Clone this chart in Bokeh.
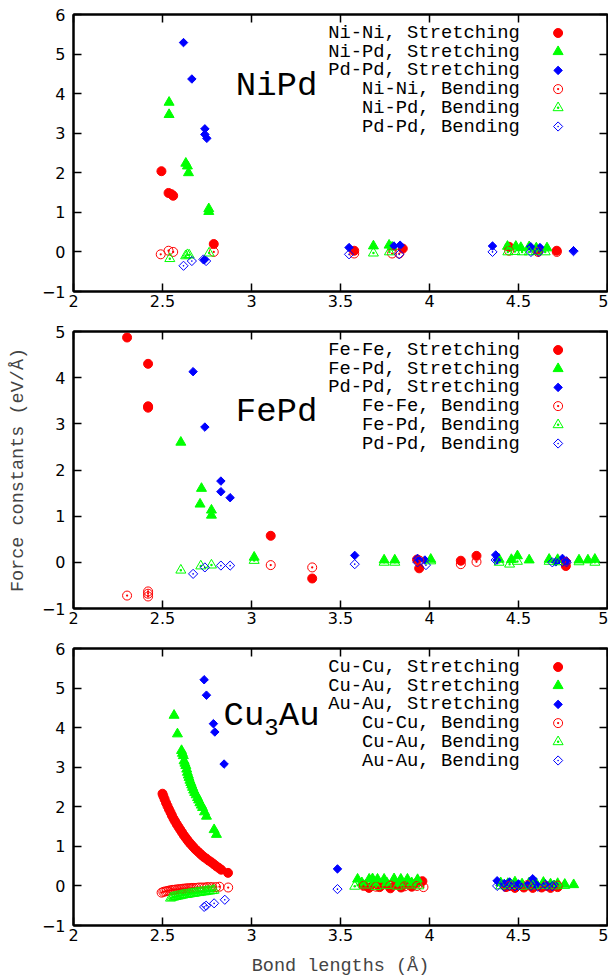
from bokeh.plotting import figure
from bokeh.models import LinearAxis, FixedTicker, Label, Range1d
from bokeh.layouts import column
from bokeh.embed import file_html
from bokeh.resources import INLINE

# ---------------- data ----------------
x_ticks = [2, 2.5, 3, 3.5, 4, 4.5, 5]
x_tick_labels = ["2", "2.5", "3", "3.5", "4", "4.5", "5"]

# NiPd
nipd_labels = ["Ni-Ni, Stretching", "Ni-Pd, Stretching", "Pd-Pd, Stretching",
               "Ni-Ni, Bending", "Ni-Pd, Bending", "Pd-Pd, Bending"]
nipd_nini_str_x = [2.494, 2.534, 2.550, 2.560, 2.788, 3.577, 3.850, 4.447, 4.610, 4.715]
nipd_nini_str_y = [2.04, 1.49, 1.46, 1.42, 0.20, 0.03, 0.085, 0.13, 0.03, 0.03]
nipd_nipd_str_x = [2.537, 2.537, 2.631, 2.640, 2.646, 2.760, 2.760, 3.685, 3.773, 3.790,
                   4.438, 4.485, 4.513, 4.560, 4.600, 4.660]
nipd_nipd_str_y = [3.78, 3.47, 2.24, 2.17, 2.00, 1.09, 1.02, 0.15, 0.17, 0.12,
                   0.14, 0.14, 0.11, 0.13, 0.10, 0.10]
nipd_pdpd_str_x = [2.618, 2.665, 2.738, 2.738, 2.749, 2.735, 3.548, 3.800, 3.835,
                   4.354, 4.569, 4.621, 4.809]
nipd_pdpd_str_y = [5.29, 4.37, 3.11, 2.97, 2.87, -0.20, 0.11, 0.15, 0.17,
                   0.15, 0.13, 0.11, 0.03]
nipd_nini_bend_x = [2.490, 2.534, 2.560, 2.788, 3.577, 3.790, 3.830, 4.447, 4.610, 4.715]
nipd_nini_bend_y = [-0.06, 0.03, 0.00, 0.00, -0.04, -0.04, -0.04, 0.03, 0.00, 0.00]
nipd_nipd_bend_x = [2.541, 2.630, 2.640, 2.650, 2.762, 3.685, 3.775, 4.440, 4.480, 4.520,
                    4.560, 4.600, 4.650]
nipd_nipd_bend_y = [-0.17, -0.10, -0.07, -0.08, -0.03, -0.03, 0.00, 0.00, 0.01, 0.00,
                    0.00, 0.01, 0.00]
nipd_pdpd_bend_x = [2.618, 2.665, 2.730, 2.745, 3.548, 3.830, 4.354, 4.570, 4.615, 4.809]
nipd_pdpd_bend_y = [-0.35, -0.23, -0.19, -0.23, -0.06, -0.06, 0.00, 0.00, 0.00, 0.02]

# FePd
fepd_labels = ["Fe-Fe, Stretching", "Fe-Pd, Stretching", "Pd-Pd, Stretching",
               "Fe-Fe, Bending", "Fe-Pd, Bending", "Pd-Pd, Bending"]
fepd_fefe_str_x = [2.301, 2.419, 2.419, 2.419, 3.108, 3.341, 3.930, 3.942, 4.176, 4.264, 4.766]
fepd_fefe_str_y = [4.87, 4.30, 3.38, 3.35, 0.575, -0.35, 0.06, -0.13, 0.035, 0.14, -0.08]
fepd_fepd_str_x = [2.603, 2.719, 2.711, 2.775, 2.775, 3.015, 3.745, 3.805, 4.007, 4.391,
                   4.460, 4.494, 4.560, 4.672, 4.720, 4.840, 4.890, 4.929]
fepd_fepd_str_y = [2.60, 1.60, 1.26, 1.13, 1.02, 0.11, 0.05, 0.05, 0.065, 0.065,
                   0.06, 0.14, 0.05, 0.065, 0.06, 0.05, 0.05, 0.065]
fepd_pdpd_str_x = [2.672, 2.738, 2.828, 2.828, 2.880, 3.580, 3.933, 3.974, 4.372, 4.380,
                   4.710, 4.747, 4.770]
fepd_pdpd_str_y = [4.13, 2.93, 1.76, 1.53, 1.40, 0.15, 0.085, 0.05, 0.16, 0.05,
                   0.01, 0.085, 0.03]
fepd_fefe_bend_x = [2.301, 2.419, 2.419, 2.419, 3.108, 3.341, 3.943, 4.176, 4.264, 4.766]
fepd_fefe_bend_y = [-0.72, -0.63, -0.68, -0.74, -0.06, -0.11, 0.04, -0.04, 0.01, 0.00]
fepd_fepd_bend_x = [2.603, 2.715, 2.775, 3.015, 3.745, 3.805, 4.007, 4.391, 4.450, 4.494,
                    4.672, 4.720, 4.840, 4.929]
fepd_fepd_bend_y = [-0.17, -0.08, -0.06, 0.04, 0.00, 0.00, 0.03, 0.00, -0.04, 0.02,
                    0.02, 0.01, 0.01, 0.00]
fepd_pdpd_bend_x = [2.672, 2.738, 2.828, 2.880, 3.580, 3.933, 3.980, 4.372, 4.690, 4.747, 4.770]
fepd_pdpd_bend_y = [-0.25, -0.11, -0.07, -0.07, -0.04, 0.00, -0.06, 0.05, 0.00, 0.01, 0.00]

# Cu3Au
cuau_labels = ["Cu-Cu, Stretching", "Cu-Au, Stretching", "Au-Au, Stretching",
               "Cu-Cu, Bending", "Cu-Au, Bending", "Au-Au, Bending"]
cuau_cucu_str_x = [2.500, 2.505, 2.512, 2.520, 2.528, 2.536, 2.545, 2.553, 2.562, 2.571,
                   2.580, 2.590, 2.600, 2.610, 2.620, 2.630, 2.640, 2.650, 2.660, 2.672,
                   2.684, 2.696, 2.708, 2.720, 2.733, 2.746, 2.760, 2.774, 2.788, 2.802,
                   2.815, 2.830, 2.868,
                   3.63, 3.66, 3.69, 3.72, 3.75, 3.78, 3.81, 3.84, 3.87, 3.90, 3.93, 3.96,
                   4.43, 4.48, 4.53, 4.58, 4.63, 4.68, 4.72]
cuau_cucu_str_y = [2.33, 2.27, 2.19, 2.10, 2.02, 1.94, 1.86, 1.78, 1.70, 1.63,
                   1.56, 1.49, 1.42, 1.35, 1.28, 1.22, 1.16, 1.10, 1.05, 0.99,
                   0.93, 0.88, 0.83, 0.78, 0.73, 0.69, 0.64, 0.60, 0.55, 0.50,
                   0.46, 0.41, 0.33,
                   0.02, -0.05, 0.06, -0.03, 0.04, -0.06, 0.03, -0.04, 0.05, -0.02, 0.08, 0.12,
                   -0.03, -0.05, -0.04, -0.05, -0.04, -0.05, -0.03]
cuau_cuau_str_x = [2.565, 2.584, 2.607, 2.612, 2.617, 2.621, 2.626, 2.631, 2.636, 2.640,
                   2.645, 2.649, 2.654, 2.659, 2.664, 2.669, 2.675, 2.681, 2.689, 2.697,
                   2.703, 2.710, 2.718, 2.725, 2.736, 2.747, 2.790, 2.803,
                   3.596, 3.620, 3.661, 3.680, 3.690, 3.708, 3.745, 3.760, 3.801, 3.830,
                   3.839, 3.876, 3.900, 3.933,
                   4.40, 4.44, 4.48, 4.52, 4.56, 4.60, 4.64, 4.68, 4.72, 4.76, 4.81]
cuau_cuau_str_y = [4.31, 3.84, 3.42, 3.35, 3.29, 3.16, 3.10, 3.04, 2.95, 2.87,
                   2.80, 2.74, 2.67, 2.61, 2.55, 2.49, 2.42, 2.36, 2.30, 2.23,
                   2.17, 2.10, 2.04, 1.98, 1.87, 1.76, 1.42, 1.30,
                   0.17, 0.08, 0.17, 0.18, 0.08, 0.17, 0.17, 0.08, 0.18, 0.08,
                   0.17, 0.17, 0.08, 0.16,
                   0.08, 0.06, 0.10, 0.05, 0.08, 0.06, 0.09, 0.05, 0.06, 0.04, 0.03]
cuau_auau_str_x = [2.734, 2.747, 2.786, 2.794, 2.846, 3.483,
                   4.38, 4.42, 4.45, 4.50, 4.55, 4.58, 4.60, 4.65, 4.70]
cuau_auau_str_y = [5.21, 4.82, 4.10, 3.89, 3.08, 0.43,
                   0.13, 0.06, 0.10, 0.05, 0.03, 0.18, 0.03, 0.05, 0.04]
cuau_cucu_bend_x = [2.495, 2.505, 2.515, 2.525, 2.535, 2.545, 2.555, 2.565, 2.575, 2.585,
                    2.595, 2.605, 2.615, 2.625, 2.635, 2.645, 2.655, 2.665, 2.675, 2.690,
                    2.705, 2.720, 2.735, 2.750, 2.765, 2.780, 2.800, 2.820, 2.869,
                    3.63, 3.70, 3.78, 3.86, 3.93, 3.966,
                    4.45, 4.55, 4.65, 4.72]
cuau_cucu_bend_y = [-0.17, -0.15, -0.14, -0.13, -0.12, -0.11, -0.10, -0.10, -0.09, -0.09,
                    -0.08, -0.08, -0.07, -0.07, -0.06, -0.06, -0.06, -0.05, -0.05, -0.05,
                    -0.04, -0.04, -0.04, -0.03, -0.03, -0.03, -0.03, -0.02, -0.04,
                    0.00, -0.02, 0.01, -0.01, 0.00, -0.03,
                    0.00, 0.02, 0.00, 0.01]
cuau_cuau_bend_x = [2.545, 2.555, 2.565, 2.575, 2.585, 2.595, 2.605, 2.615, 2.625, 2.635,
                    2.645, 2.655, 2.665, 2.675, 2.685, 2.695, 2.705, 2.715, 2.725, 2.735,
                    2.745, 2.755, 2.765, 2.780, 2.790,
                    3.58, 3.64, 3.70, 3.76, 3.82, 3.88, 3.94,
                    4.40, 4.46, 4.52, 4.58, 4.64, 4.70, 4.76]
cuau_cuau_bend_y = [-0.31, -0.29, -0.28, -0.27, -0.26, -0.25, -0.24, -0.23, -0.22, -0.22,
                    -0.21, -0.20, -0.19, -0.19, -0.18, -0.17, -0.17, -0.16, -0.15, -0.15,
                    -0.14, -0.13, -0.13, -0.12, -0.11,
                    -0.01, 0.02, -0.02, 0.01, -0.01, 0.02, 0.00,
                    0.00, 0.01, -0.01, 0.00, 0.01, 0.00, 0.01]
cuau_auau_bend_x = [2.734, 2.745, 2.790, 2.850, 3.483,
                    4.38, 4.42, 4.45, 4.48, 4.50, 4.57, 4.61, 4.66, 4.69]
cuau_auau_bend_y = [-0.53, -0.50, -0.44, -0.35, -0.08,
                    0.00, -0.02, 0.00, -0.01, 0.00, 0.00, -0.02, 0.00, -0.01]

# ---------------- styling ----------------
FRAME_W, FRAME_H = 534, 277
X0, X1 = 2, 5
RED, GREEN, BLUE = "#ff0000", "#00ff00", "#0000ff"
MONO = "Liberation Mono"
TICKFONT = "DejaVu Sans"

MARKERS = [
    dict(marker="circle", size=9, fill_color=RED, line_color=RED),
    dict(marker="triangle", size=10, fill_color=GREEN, line_color=GREEN),
    dict(marker="square", size=6, angle=0.7854, fill_color=BLUE, line_color=BLUE),
    dict(marker="circle_dot", size=9, fill_color=None, line_color=RED, line_width=1),
    dict(marker="triangle_dot", size=10, fill_color=None, line_color=GREEN, line_width=1),
    dict(marker="square_dot", size=6.5, angle=0.7854, fill_color=None, line_color=BLUE, line_width=1),
]


def px2x(px):
    return X0 + px / FRAME_W * (X1 - X0)


def px2y(py, ymin, ymax):
    return ymax - py / FRAME_H * (ymax - ymin)


def style_axis(ax, ticks, overrides, show):
    ax.ticker = FixedTicker(ticks=ticks)
    ax.major_tick_in = 8
    ax.major_tick_out = 0
    ax.minor_tick_in = 0
    ax.minor_tick_out = 0
    ax.major_tick_line_width = 1.5
    ax.major_tick_line_color = "black"
    ax.axis_line_width = 2
    ax.axis_line_color = "black"
    ax.major_label_text_font = TICKFONT
    ax.major_label_text_color = "black"
    if show:
        ax.major_label_overrides = overrides
        ax.major_label_text_font_size = "16px"
    else:
        ax.major_label_overrides = {t: "" for t in ticks}
        ax.major_label_text_font_size = "1px"
        ax.major_label_standoff = 0


def make_panel(ymin, ymax, series, labels, title_parts, top_b, bottom_b,
               xlabel=None, ylabel=None):
    p = figure(frame_width=FRAME_W, frame_height=FRAME_H,
               x_range=Range1d(X0, X1), y_range=Range1d(ymin, ymax),
               output_backend="svg", toolbar_location=None,
               min_border_left=73, min_border_right=1, min_border_top=top_b,
               min_border_bottom=bottom_b)
    p.grid.visible = False
    p.outline_line_color = "black"
    p.outline_line_width = 2
    p.background_fill_color = "white"
    p.border_fill_color = "white"

    y_ticks = list(range(ymin, ymax + 1))
    y_over = {-1: "\u22121"}
    x_over = {t: l for t, l in zip(x_ticks, x_tick_labels)}

    xax = p.xaxis[0]
    yax = p.yaxis[0]
    style_axis(xax, x_ticks, x_over, True)
    xax.major_label_standoff = 3
    style_axis(yax, y_ticks, y_over, True)
    yax.major_label_standoff = 8

    if xlabel:
        xax.axis_label = xlabel
        xax.axis_label_text_font = MONO
        xax.axis_label_text_font_size = "18.5px"
        xax.axis_label_text_font_style = "normal"
        xax.axis_label_standoff = 12
    if ylabel:
        yax.axis_label = ylabel
        yax.axis_label_text_font = MONO
        yax.axis_label_text_font_size = "18.5px"
        yax.axis_label_text_font_style = "normal"
        yax.axis_label_standoff = 10

    top = LinearAxis()
    style_axis(top, x_ticks, x_over, False)
    p.add_layout(top, "above")
    right = LinearAxis()
    style_axis(right, y_ticks, y_over, False)
    p.add_layout(right, "right")

    for (xs, ys), mk in zip(series, MARKERS):
        p.scatter(xs, ys, **mk)

    # legend (gnuplot style: right-aligned text, marker on the right)
    for i, (lab, mk) in enumerate(zip(labels, MARKERS)):
        yy = px2y(18.5 + 18.7 * i, ymin, ymax)
        p.add_layout(Label(x=px2x(446.3), y=yy, text=lab, text_align="right",
                           text_baseline="middle", text_font=MONO,
                           text_font_size="18.8px", text_color="black"))
        p.scatter([px2x(484.6)], [yy], **mk)

    for txt, px, py, fs in title_parts:
        p.add_layout(Label(x=px2x(px), y=px2y(py, ymin, ymax), text=txt,
                           text_align="left", text_baseline="alphabetic",
                           text_font=MONO, text_font_size=fs, text_color="black"))
    return p


p1 = make_panel(-1, 6,
                [(nipd_nini_str_x, nipd_nini_str_y), (nipd_nipd_str_x, nipd_nipd_str_y),
                 (nipd_pdpd_str_x, nipd_pdpd_str_y), (nipd_nini_bend_x, nipd_nini_bend_y),
                 (nipd_nipd_bend_x, nipd_nipd_bend_y), (nipd_pdpd_bend_x, nipd_pdpd_bend_y)],
                nipd_labels, [("NiPd", 162.3, 71, "34px")], 14, 29)
p2 = make_panel(-1, 5,
                [(fepd_fefe_str_x, fepd_fefe_str_y), (fepd_fepd_str_x, fepd_fepd_str_y),
                 (fepd_pdpd_str_x, fepd_pdpd_str_y), (fepd_fefe_bend_x, fepd_fefe_bend_y),
                 (fepd_fepd_bend_x, fepd_fepd_bend_y), (fepd_pdpd_bend_x, fepd_pdpd_bend_y)],
                fepd_labels, [("FePd", 162.3, 80.7, "34px")], 11, 29,
                ylabel="Force constants (eV/\u00c5)")
p3 = make_panel(-1, 6,
                [(cuau_cucu_str_x, cuau_cucu_str_y), (cuau_cuau_str_x, cuau_cuau_str_y),
                 (cuau_auau_str_x, cuau_auau_str_y), (cuau_cucu_bend_x, cuau_cucu_bend_y),
                 (cuau_cuau_bend_x, cuau_cuau_bend_y), (cuau_auau_bend_x, cuau_auau_bend_y)],
                cuau_labels, [("Cu", 150, 67, "34px"), ("3", 190.8, 78, "24px"),
                              ("Au", 205.3, 67, "34px")], 11, 46,
                xlabel="Bond lengths (\u00c5)")

layout = column(p1, p2, p3, spacing=0)
open("out.html", "w").write(file_html(layout, INLINE))
